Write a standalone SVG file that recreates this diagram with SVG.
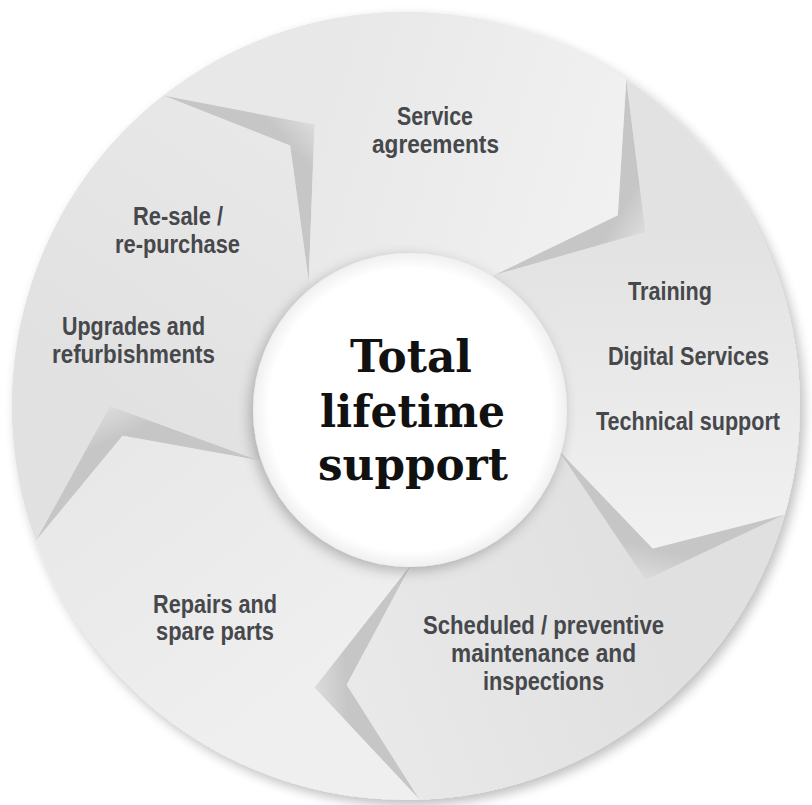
<svg xmlns="http://www.w3.org/2000/svg" width="812" height="805" viewBox="0 0 812 805">
  <defs>
    <style>
      .lbl { font-family: "Liberation Sans Narrow", "Liberation Sans", Arial, sans-serif; font-weight: bold; font-size: 25px; fill: #46484c; text-anchor: middle; }
      .ctr { font-family: "DejaVu Serif", "Liberation Serif", serif; font-weight: bold; font-size: 45px; fill: #111111; text-anchor: middle; }
    </style>
    <filter id="discShadow" x="-10%" y="-10%" width="120%" height="120%">
      <feGaussianBlur in="SourceAlpha" stdDeviation="6"/>
      <feOffset dx="4" dy="5" result="b"/>
      <feComponentTransfer><feFuncA type="linear" slope="0.26"/></feComponentTransfer>
      <feMerge><feMergeNode/><feMergeNode in="SourceGraphic"/></feMerge>
    </filter>
    <filter id="hubShadow" x="-20%" y="-20%" width="140%" height="140%">
      <feGaussianBlur in="SourceAlpha" stdDeviation="7"/>
      <feOffset dx="-3" dy="4"/>
      <feComponentTransfer><feFuncA type="linear" slope="0.26"/></feComponentTransfer>
      <feMerge><feMergeNode/><feMergeNode in="SourceGraphic"/></feMerge>
    </filter>
    <radialGradient id="hubFill" cx="0.5" cy="0.5" r="0.5">
      <stop offset="0.9" stop-color="#ffffff"/>
      <stop offset="1" stop-color="#f0f0f0"/>
    </radialGradient>
    <linearGradient id="gSvc" gradientUnits="userSpaceOnUse" x1="314" y1="124" x2="618" y2="215">
      <stop offset="0" stop-color="#e8e8e8"/><stop offset="1" stop-color="#f1f1f1"/>
    </linearGradient>
    <linearGradient id="gTrn" gradientUnits="userSpaceOnUse" x1="645" y1="232" x2="653" y2="548">
      <stop offset="0" stop-color="#e2e2e2"/><stop offset="1" stop-color="#f1f1f1"/>
    </linearGradient>
    <linearGradient id="gSch" gradientUnits="userSpaceOnUse" x1="645" y1="580" x2="347" y2="685">
      <stop offset="0" stop-color="#e0e0e0"/><stop offset="1" stop-color="#e9e9e9"/>
    </linearGradient>
    <linearGradient id="gRep" gradientUnits="userSpaceOnUse" x1="314" y1="687" x2="123" y2="436">
      <stop offset="0" stop-color="#efefef"/><stop offset="1" stop-color="#e8e8e8"/>
    </linearGradient>
    <linearGradient id="gRes" gradientUnits="userSpaceOnUse" x1="110" y1="406" x2="290" y2="146">
      <stop offset="0" stop-color="#e1e1e1"/><stop offset="1" stop-color="#e8e8e8"/>
    </linearGradient>
    <linearGradient id="shA" gradientUnits="userSpaceOnUse" x1="290" y1="146" x2="314" y2="124">
      <stop offset="0" stop-color="#c6c6c6"/><stop offset="1" stop-color="#dcdcdc"/>
    </linearGradient>
    <linearGradient id="shB" gradientUnits="userSpaceOnUse" x1="618" y1="215" x2="645" y2="232">
      <stop offset="0" stop-color="#c6c6c6"/><stop offset="1" stop-color="#dcdcdc"/>
    </linearGradient>
    <linearGradient id="shC" gradientUnits="userSpaceOnUse" x1="653" y1="548" x2="645" y2="580">
      <stop offset="0" stop-color="#c6c6c6"/><stop offset="1" stop-color="#dcdcdc"/>
    </linearGradient>
    <linearGradient id="shD" gradientUnits="userSpaceOnUse" x1="347" y1="685" x2="314" y2="687">
      <stop offset="0" stop-color="#c6c6c6"/><stop offset="1" stop-color="#dcdcdc"/>
    </linearGradient>
    <linearGradient id="shE" gradientUnits="userSpaceOnUse" x1="123" y1="436" x2="110" y2="406">
      <stop offset="0" stop-color="#c6c6c6"/><stop offset="1" stop-color="#dcdcdc"/>
    </linearGradient>
  </defs>

  <rect width="812" height="805" fill="#ffffff"/>

  <g id="disc">
    <circle cx="406" cy="406" r="394" fill="#e2e2e2" filter="url(#discShadow)"/>
  </g>

  <g id="folds">
    <polygon points="163.4,95.5 290.1,145.6 308.7,281.5 314.5,124.5" fill="url(#shA)"/>
    <polygon points="626.3,79.4 617.8,215.3 494.4,275 645.5,232" fill="url(#shB)"/>
    <polygon points="784.7,514.6 652.8,548.5 557.9,449.6 645.5,580" fill="url(#shC)"/>
    <polygon points="419.7,799.8 346.7,684.8 411.5,563.9 314.5,687.5" fill="url(#shD)"/>
    <polygon points="35.8,540.8 122.6,435.8 257.5,460 110,406" fill="url(#shE)"/>
  </g>

  <g id="service-agreements">
    <path d="M163.4,95.5 A394,394 0 0 1 626.3,79.4 L617.8,215.3 L494.4,275 L406,406 L308.7,281.5 L314.5,124.5 Z" fill="url(#gSvc)"/>
    <text class="lbl" x="435" y="125" textLength="76" lengthAdjust="spacingAndGlyphs">Service</text>
    <text class="lbl" x="435.5" y="153" textLength="127" lengthAdjust="spacingAndGlyphs">agreements</text>
  </g>

  <g id="training-digital-technical">
    <path d="M626.3,79.4 A394,394 0 0 1 784.7,514.6 L652.8,548.5 L557.9,449.6 L406,406 L494.4,275 L645.5,232 Z" fill="url(#gTrn)"/>
    <text class="lbl" x="670" y="300" textLength="84" lengthAdjust="spacingAndGlyphs">Training</text>
    <text class="lbl" x="688.5" y="365" textLength="161" lengthAdjust="spacingAndGlyphs">Digital Services</text>
    <text class="lbl" x="688" y="430" textLength="184" lengthAdjust="spacingAndGlyphs">Technical support</text>
  </g>

  <g id="scheduled-maintenance">
    <path d="M784.7,514.6 A394,394 0 0 1 419.7,799.8 L346.7,684.8 L411.5,563.9 L406,406 L557.9,449.6 L645.5,580 Z" fill="url(#gSch)"/>
    <text class="lbl" x="543.5" y="634" textLength="241" lengthAdjust="spacingAndGlyphs">Scheduled / preventive</text>
    <text class="lbl" x="543.5" y="662" textLength="185" lengthAdjust="spacingAndGlyphs">maintenance and</text>
    <text class="lbl" x="543.5" y="690" textLength="121" lengthAdjust="spacingAndGlyphs">inspections</text>
  </g>

  <g id="repairs-spare-parts">
    <path d="M419.7,799.8 A394,394 0 0 1 35.8,540.8 L122.6,435.8 L257.5,460 L406,406 L411.5,563.9 L314.5,687.5 Z" fill="url(#gRep)"/>
    <text class="lbl" x="215" y="613" textLength="124" lengthAdjust="spacingAndGlyphs">Repairs and</text>
    <text class="lbl" x="215" y="640" textLength="118" lengthAdjust="spacingAndGlyphs">spare parts</text>
  </g>

  <g id="resale-upgrades">
    <path d="M35.8,540.8 A394,394 0 0 1 163.4,95.5 L290.1,145.6 L308.7,281.5 L406,406 L257.5,460 L110,406 Z" fill="url(#gRes)"/>
    <text class="lbl" x="178" y="225" textLength="90" lengthAdjust="spacingAndGlyphs">Re-sale /</text>
    <text class="lbl" x="177.5" y="253" textLength="125" lengthAdjust="spacingAndGlyphs">re-purchase</text>
    <text class="lbl" x="133.5" y="335" textLength="143" lengthAdjust="spacingAndGlyphs">Upgrades and</text>
    <text class="lbl" x="133.5" y="363" textLength="163" lengthAdjust="spacingAndGlyphs">refurbishments</text>
  </g>

  <g id="total-lifetime-support">
    <circle cx="410" cy="410" r="157" fill="url(#hubFill)" filter="url(#hubShadow)"/>
    <text class="ctr" x="411" y="372" textLength="122" lengthAdjust="spacingAndGlyphs">Total</text>
    <text class="ctr" x="412.5" y="427" textLength="185" lengthAdjust="spacingAndGlyphs">lifetime</text>
    <text class="ctr" x="413" y="480" textLength="190" lengthAdjust="spacingAndGlyphs">support</text>
  </g>
</svg>
